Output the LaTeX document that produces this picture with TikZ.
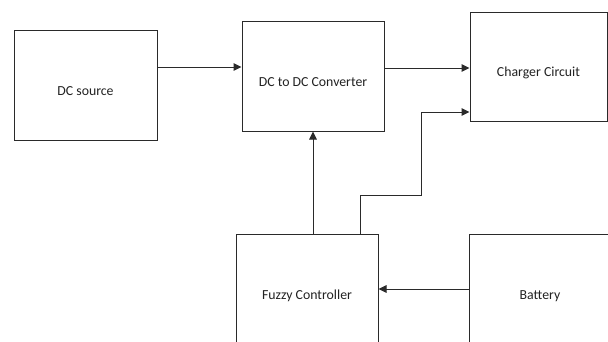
\documentclass[tikz,border=0pt]{standalone}
\usepackage{fontspec}
\setmainfont{Carlito}
\usetikzlibrary{arrows.meta,calc}
\definecolor{linec}{HTML}{2A2A2A}
\definecolor{textc}{HTML}{222222}
\begin{document}
\begin{tikzpicture}[x=1pt,y=-1pt,
  box/.style={draw=linec,line width=1pt,minimum width=#1,inner sep=0pt},
  lbl/.style={text=textc,font=\fontsize{13.8}{16}\selectfont,inner sep=0pt},
  arr/.style={draw=linec,line width=1pt,-{Triangle[length=8pt,width=7.5pt]}},
  ln/.style={draw=linec,line width=1pt}]
\useasboundingbox (0,0) rectangle (608,341);
\clip (0,0) rectangle (608,341);
\fill[white] (0,0) rectangle (608,341);
\node[box=143pt,minimum height=110pt] (src) at (85.5,85) {};
\node[box=142pt,minimum height=110pt] (conv) at (313,76) {};
\node[box=137pt,minimum height=109pt] (chg) at (538.5,66.5) {};
\node[box=142pt,minimum height=130pt] (fuz) at (307,299) {};
\node[box=180pt,minimum height=130pt] (bat) at (559,299) {};
\node[lbl] (tsrc) at ($(src.center)+(0,6)$) {DC source};
\node[lbl] (tconv) at ($(conv.center)+(0,6)$) {DC to DC Converter};
\node[lbl] (tchg) at ($(chg.center)+(0,6.5)$) {Charger Circuit};
\node[lbl] (tfuz) at (307,296) {Fuzzy Controller};
\node[lbl] (tbat) at (540,296) {Battery};
\coordinate (j1) at (360,195);
\coordinate (j2) at (421,195);
\coordinate (j3) at (421,112);
\draw[arr] (src.east |- 0,67) -- (conv.west |- 0,67);
\draw[arr] (conv.east |- 0,68) -- (chg.west |- 0,68);
\draw[arr] (fuz.north -| conv.south) -- (conv.south);
\draw[arr] (fuz.north -| j1) -- (j1) -- (j2) -- (j3) -- (chg.west |- j3);
\draw[arr] (bat.west |- 0,289) -- (fuz.east |- 0,289);
\end{tikzpicture}
\end{document}
